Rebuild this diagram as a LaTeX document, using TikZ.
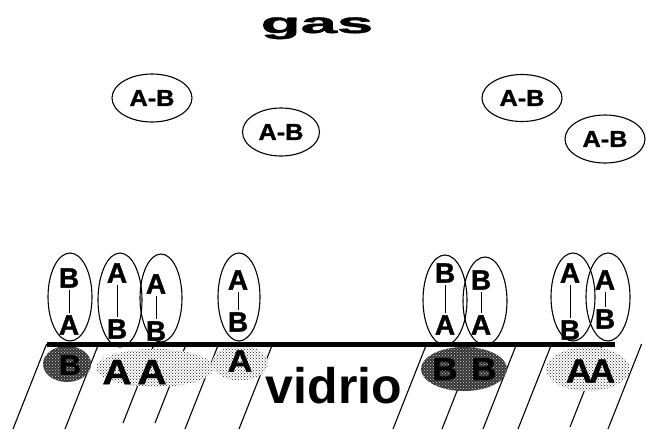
\documentclass[tikz,border=0pt]{standalone}
\usepackage{fontspec}
\setmainfont{Liberation Sans}
% a heavier cut for the letters of the molecules
\newfontfamily\heavyfont[FakeBold=1.2]{Liberation Sans Bold}
\usetikzlibrary{shapes.geometric,patterns}

% horizontal stretch of a piece of text
\newcommand\stretchx[2]{\scalebox{#1}[1]{#2}}

\begin{document}
\begin{tikzpicture}[x=1pt,y=-1pt,
  gasmol/.style={ellipse,draw,line width=1.1pt,inner sep=0pt,
    minimum width=80pt,minimum height=48pt,
    font=\heavyfont\fontsize{23}{23}\selectfont},
  surfmol/.style={ellipse,draw,line width=1.1pt,inner sep=0pt,
    minimum width=44pt,minimum height=88pt},
  atom/.style={font=\heavyfont\fontsize{28}{28}\selectfont,
    inner sep=0pt,outer sep=2.5pt},
  bond/.style={line width=1pt},
  lightdots/.style={ellipse,inner sep=0pt,preaction={fill=white},
    pattern=crosshatch dots,pattern color=black!90},
  darkdots/.style={ellipse,inner sep=0pt,preaction={fill=black!80},
    pattern=crosshatch dots,pattern color=white!85!black},
  bigletter/.style={font=\heavyfont\fontsize{#1}{#1}\selectfont,inner sep=0pt},
  hatch/.style={line width=1.1pt},
  surface/.style={line width=5pt}]

\useasboundingbox (0,0) rectangle (647,429);

% title
\node[font=\heavyfont\fontsize{29}{29}\selectfont,anchor=base,inner sep=0pt]
  (gas) at (317,33) {\stretchx{2.25}{gas}};

% free molecules in the gas phase
\node[gasmol] (g1) at (152,98) {\stretchx{1.1}{A-B}};
\node[gasmol,minimum width=77pt] (g2) at (281,132) {\stretchx{1.1}{A-B}};
\node[gasmol,minimum height=47pt] (g3) at (522,98) {\stretchx{1.1}{A-B}};
\node[gasmol] (g4) at (605,139) {\stretchx{1.1}{A-B}};

% glass hatching (bottom x, bottom y, x at the surface)
\foreach \xb/\yb/\xt in {13/429/46.6, 65/429/98.6, 123/423/154.2,
    155/423/186.2, 185/429/218.6, 239/429/272.6, 393/429/426.6,
    442/429/475.6, 483/429/516.6, 518/429/551.6, 570/427/602.8,
    608/429/641.6}
  \draw[hatch] (\xb,\yb) -- (\xt,344);

% adsorption sites
\node[darkdots,minimum width=48pt,minimum height=36pt] (shB) at (67,364) {};
\node[lightdots,minimum width=118pt,minimum height=38pt] (shAA) at (155,368) {};
\node[lightdots,minimum width=56pt,minimum height=35pt] (shA) at (240,363) {};
\node[darkdots,minimum width=86pt,minimum height=44pt] (shBB) at (464,369) {};
\node[lightdots,minimum width=84pt,minimum height=44pt] (shAA2) at (588,369) {};

% surface atoms
\node[bigletter=28] (sB) at (70,365) {\stretchx{1.1}{B}};
\node[bigletter=35] (sA1) at (117,372) {\stretchx{1.15}{A}};
\node[bigletter=35] (sA2) at (152,372) {\stretchx{1.15}{A}};
\node[bigletter=31] (sA3) at (240,361) {\stretchx{1.1}{A}};
\node[bigletter=32] (sB1) at (445,369) {\stretchx{1.1}{B}};
\node[bigletter=32] (sB2) at (484,369) {\stretchx{1.1}{B}};
\node[bigletter=33] (sA4) at (579,371) {\stretchx{1.1}{A}};
\node[bigletter=33] (sA5) at (602,371) {\stretchx{1.1}{A}};

% glass label
\node[font=\bfseries\fontsize{50}{50}\selectfont,anchor=base,inner sep=0pt]
  (vidrio) at (334,403) {vidrio};

% surface line
\coordinate (sl) at (47,344);
\coordinate (sr) at (615,344);
\draw[surface] (sl) -- (sr);

% adsorbed molecules
\node[surfmol] (m1) at (70,297) {};
\node[atom] (m1t) at (69,278) {B};
\node[atom] (m1b) at (69,325) {A};
\draw[bond] (m1t) -- (m1b);

\node[surfmol,minimum height=94pt] (m2) at (120,300) {};
\node[atom] (m2t) at (117,273) {A};
\node[atom] (m2b) at (117,329) {B};
\draw[bond] (m2t) -- (m2b);

\node[surfmol,minimum width=42pt] (m3) at (161,298) {};
\node[atom] (m3t) at (156,284) {A};
\node[atom] (m3b) at (156,331) {B};
\draw[bond] (m3t) -- (m3b);

\node[surfmol,minimum width=42pt] (m4) at (239,297) {};
\node[atom] (m4t) at (238,280) {A};
\node[atom] (m4b) at (238,322) {B};
\draw[bond] (m4t) -- (m4b);

\node[surfmol,minimum height=90pt] (m5) at (445,300) {};
\node[atom] (m5t) at (445,273) {B};
\node[atom] (m5b) at (445,325) {A};
\draw[bond] (m5t) -- (m5b);

\node[surfmol] (m6) at (485,301) {};
\node[atom] (m6t) at (481,280) {B};
\node[atom] (m6b) at (481,325) {A};
\draw[bond] (m6t) -- (m6b);

\node[surfmol] (m7) at (573,297) {};
\node[atom] (m7t) at (570,273) {A};
\node[atom] (m7b) at (570,330) {B};
\draw[bond] (m7t) -- (m7b);

\node[surfmol] (m8) at (608,297) {};
\node[atom] (m8t) at (605,280) {A};
\node[atom] (m8b) at (605,319) {B};
\draw[bond] (m8t) -- (m8b);

\end{tikzpicture}
\end{document}
